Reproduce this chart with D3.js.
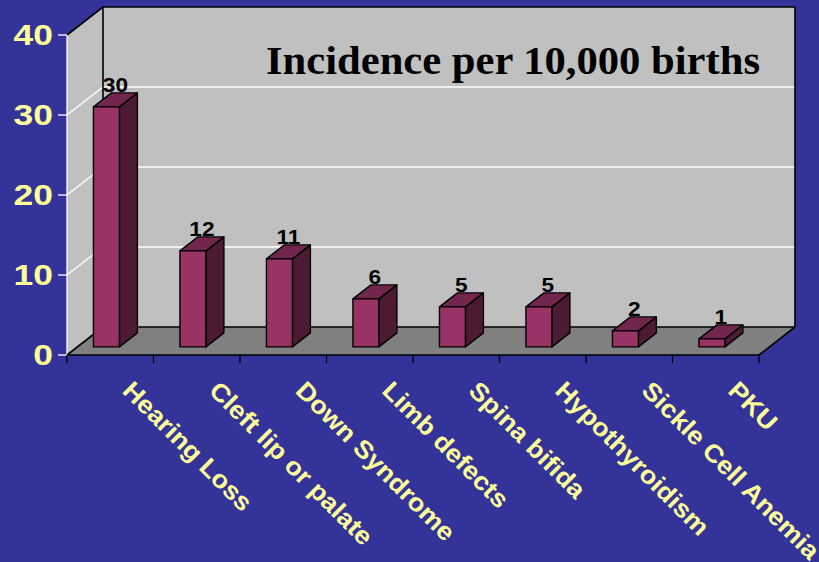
<!DOCTYPE html>
<html>
<head>
<meta charset="utf-8">
<script src="https://cdn.jsdelivr.net/npm/d3@7"></script>
<style>
  html, body { margin: 0; padding: 0; background: #333399; }
  svg { display: block; }
</style>
</head>
<body>
<svg id="chart" width="819" height="562"></svg>
<script>
// Incidence per 10,000 births, by condition
const categories = ["Hearing Loss", "Cleft lip or palate", "Down Syndrome", "Limb defects",
                    "Spina bifida", "Hypothyroidism", "Sickle Cell Anemia", "PKU"];
const values = [30, 12, 11, 6, 5, 5, 2, 1];
const yTicks = [0, 10, 20, 30, 40];
const title = "Incidence per 10,000 births";

const svg = d3.select("#chart");

// front plane of the 3D box
const x = d3.scaleBand().domain(categories).range([67, 759]).padding(0);
const y = d3.scaleLinear().domain([0, 40]).range([355, 35]);

// oblique depth vector (full depth of the box)
const DX = 36, DY = -28;
const P = (px, v, z) => [px + DX * z, y(v) + DY * z];
const poly = pts => pts.map(p => p.join(",")).join(" ");

const x0 = x.range()[0], x1 = x.range()[1];

// widen a text element horizontally by a factor, keeping its font size
const widen = (sel, k) => sel.each(function () {
  const w = this.getComputedTextLength();
  d3.select(this).attr("textLength", w * k).attr("lengthAdjust", "spacingAndGlyphs");
});

// background
svg.append("rect").attr("width", 819).attr("height", 562).attr("fill", "#333399");

// left wall
svg.append("polygon")
  .attr("points", poly([P(x0, 40, 0), P(x0, 40, 1), P(x0, 0, 1), P(x0, 0, 0)]))
  .attr("fill", "#c0c0c0");

// back wall
svg.append("polygon")
  .attr("points", poly([P(x0, 40, 1), P(x1, 40, 1), P(x1, 0, 1), P(x0, 0, 1)]))
  .attr("fill", "#c0c0c0");

// floor
svg.append("polygon")
  .attr("points", poly([P(x0, 0, 0), P(x0, 0, 1), P(x1, 0, 1), P(x1, 0, 0)]))
  .attr("fill", "#808080");

// gridlines on the walls
const grid = yTicks.filter(t => t > 0 && t < 40);
grid.forEach(t => {
  const a = P(x0, t, 0), b = P(x0, t, 1), c = P(x1, t, 1);
  svg.append("polyline")
    .attr("points", poly([a, b, c]))
    .attr("fill", "none").attr("stroke", "#ffffff").attr("stroke-width", 1.3);
});

// value axis line (front edge of left wall)
svg.append("line")
  .attr("x1", x0).attr("x2", x0).attr("y1", y(40)).attr("y2", y(0))
  .attr("stroke", "#ffffff").attr("stroke-width", 1.3);

// box outlines
const edge = (pts) => svg.append("polyline")
  .attr("points", poly(pts)).attr("fill", "none")
  .attr("stroke", "#000").attr("stroke-width", 1.6).attr("stroke-linejoin", "round");
edge([P(x0, 40, 0), P(x0, 40, 1), P(x1, 40, 1), P(x1, 0, 1)]);
edge([P(x0, 40, 1), P(x0, 0, 1), P(x1, 0, 1)]);
edge([P(x0, 0, 0), P(x0, 0, 1)]);
edge([P(x0, 0, 0), P(x1, 0, 0), P(x1, 0, 1)]);

// y axis ticks and labels
const yAxis = svg.append("g");
yTicks.forEach(t => {
  yAxis.append("line")
    .attr("x1", x0 - 9).attr("x2", x0).attr("y1", y(t)).attr("y2", y(t))
    .attr("stroke", "#ffffff").attr("stroke-width", 1.3);
});
yAxis.selectAll("text").data(yTicks).join("text")
  .attr("x", x0 - 14).attr("y", t => y(t)).attr("dy", "0.36em")
  .attr("text-anchor", "end")
  .attr("font-family", "Liberation Sans, Arial, sans-serif")
  .attr("font-weight", "bold").attr("font-size", 29)
  .attr("fill", "#ffff99")
  .text(t => t)
  .call(widen, 1.22);

// category ticks along the front floor edge
const bounds = categories.map(c => x(c)).concat([x1]);
bounds.forEach(b => {
  svg.append("line")
    .attr("x1", b).attr("x2", b).attr("y1", y(0)).attr("y2", y(0) + 8)
    .attr("stroke", "#000").attr("stroke-width", 1.3);
});

// bars
const bw = x.bandwidth();
const bx0 = 0.185 * bw, bx1 = 0.485 * bw;
const z0 = 0.29, z1 = 0.79;
const bars = svg.append("g").selectAll("g").data(categories.map((c, i) => ({ c, v: values[i] })))
  .join("g");

bars.append("polygon") // right side
  .attr("points", d => poly([P(x(d.c) + bx1, d.v, z0), P(x(d.c) + bx1, d.v, z1),
                              P(x(d.c) + bx1, 0, z1), P(x(d.c) + bx1, 0, z0)]))
  .attr("fill", "#4d1a33").attr("stroke", "#000").attr("stroke-width", 1.4)
  .attr("stroke-linejoin", "round");
bars.append("polygon") // top
  .attr("points", d => poly([P(x(d.c) + bx0, d.v, z0), P(x(d.c) + bx0, d.v, z1),
                              P(x(d.c) + bx1, d.v, z1), P(x(d.c) + bx1, d.v, z0)]))
  .attr("fill", "#73264d").attr("stroke", "#000").attr("stroke-width", 1.4)
  .attr("stroke-linejoin", "round");
bars.append("polygon") // front
  .attr("points", d => poly([P(x(d.c) + bx0, d.v, z0), P(x(d.c) + bx1, d.v, z0),
                              P(x(d.c) + bx1, 0, z0), P(x(d.c) + bx0, 0, z0)]))
  .attr("fill", "#993366").attr("stroke", "#000").attr("stroke-width", 1.4)
  .attr("stroke-linejoin", "round");

// value labels above each bar
bars.append("text")
  .attr("x", d => P(x(d.c) + (bx0 + bx1) / 2, d.v, (z0 + z1) / 2)[0])
  .attr("y", d => P(0, d.v, z1)[1] - 1)
  .attr("text-anchor", "middle")
  .attr("font-family", "Liberation Sans, Arial, sans-serif")
  .attr("font-weight", "bold").attr("font-size", 21)
  .attr("fill", "#000")
  .text(d => d.v)
  .call(widen, 1.08);

// rotated category labels
svg.append("g").selectAll("text").data(categories).join("text")
  .attr("transform", c => `translate(${x(c) + bw / 2 + 11},392) rotate(45)`)
  .attr("font-family", "Liberation Sans, Arial, sans-serif")
  .attr("font-weight", "bold").attr("font-size", 25)
  .attr("fill", "#ffff99")
  .text(c => c)
  .call(widen, 1.08);

// title on the back wall
svg.append("text")
  .attr("x", 266).attr("y", 74)
  .attr("font-family", "Liberation Serif, Times New Roman, serif")
  .attr("font-weight", "bold").attr("font-size", 40)
  .attr("textLength", 494).attr("lengthAdjust", "spacingAndGlyphs")
  .attr("fill", "#000")
  .text(title);
</script>
</body>
</html>
